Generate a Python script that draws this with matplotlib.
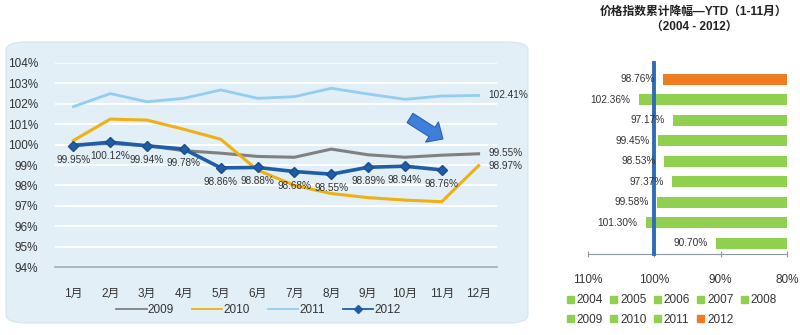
import matplotlib
matplotlib.use('Agg')
import matplotlib.pyplot as plt
import matplotlib.patches as mpatches
from matplotlib.lines import Line2D

plt.rcParams['font.family'] = ['Liberation Sans', 'Noto Sans CJK SC', 'DejaVu Sans']

months = ['1月', '2月', '3月', '4月', '5月', '6月', '7月', '8月', '9月', '10月', '11月', '12月']
s2009 = [100.0, 100.05, 99.95, 99.7, 99.58, 99.42, 99.38, 99.78, 99.5, 99.38, 99.48, 99.55]
s2010 = [100.2, 101.25, 101.2, 100.75, 100.26, 98.75, 98.0, 97.6, 97.4, 97.28, 97.2, 98.97]
s2011 = [101.86, 102.5, 102.1, 102.27, 102.68, 102.27, 102.35, 102.76, 102.48, 102.22, 102.38, 102.41]
s2012 = [99.95, 100.12, 99.94, 99.78, 98.86, 98.88, 98.68, 98.55, 98.89, 98.94, 98.76]

ytd_years = ['2004', '2005', '2006', '2007', '2008', '2009', '2010', '2011', '2012']
ytd_vals = [90.70, 101.30, 99.58, 97.37, 98.53, 99.45, 97.17, 102.36, 98.76]

c2009 = '#808080'
c2010 = '#efb012'
c2011 = '#93cdef'
c2012 = '#1f5ea6'
green = '#8fd04f'
orange = '#f07c22'

fig = plt.figure(figsize=(8, 3.35), dpi=100)

# rounded light blue panel behind the line chart
panel = mpatches.FancyBboxPatch((6 / 800, (335 - 323) / 335), 522 / 800, (323 - 42) / 335,
                                boxstyle='round,pad=0,rounding_size=0.025',
                                transform=fig.transFigure, facecolor='#e2eff6',
                                edgecolor='#d5e5ee', linewidth=0.8, zorder=-10)
fig.patches.append(panel)

ax = fig.add_axes([55 / 800, (335 - 267) / 335, 442 / 800, 204 / 335])
ax.set_facecolor('none')
x = list(range(len(months)))
ax.plot(x, s2009, color=c2009, lw=2.2, zorder=3)
ax.plot(x, s2010, color=c2010, lw=2.2, zorder=3)
ax.plot(x, s2011, color=c2011, lw=2.0, zorder=3)
x12 = x[:len(s2012)]
ax.plot(x12, s2012, color=c2012, lw=2.6, marker='D', markersize=5.5,
        markeredgecolor='#1a4f8e', zorder=4)

for xi, v in zip(x12, s2012):
    ax.annotate('%.2f%%' % v, (xi, v), xytext=(0, -14), textcoords='offset pixels',
                ha='center', va='center', fontsize=7.2, color='#333333', zorder=5)

ax.annotate('%.2f%%' % s2011[-1], (x[-1], s2011[-1]), xytext=(10, 0), textcoords='offset pixels',
            ha='left', va='center', fontsize=7.2, color='#333333')
ax.annotate('%.2f%%' % s2009[-1], (x[-1], s2009[-1]), xytext=(10, 1), textcoords='offset pixels',
            ha='left', va='center', fontsize=7.2, color='#333333')
ax.annotate('%.2f%%' % s2010[-1], (x[-1], s2010[-1]), xytext=(10, 0), textcoords='offset pixels',
            ha='left', va='center', fontsize=7.2, color='#333333')

ax.set_xlim(-0.5, 11.5)
ax.set_ylim(94, 104)
ax.set_yticks(range(94, 105))
ax.set_yticklabels(['%d%%' % t for t in range(94, 105)])
ax.set_xticks(x)
ax.set_xticklabels(months)
ax.tick_params(axis='y', length=0, pad=12, labelsize=8.5, labelcolor='#333333')
ax.tick_params(axis='x', length=0, pad=15, labelsize=8.5, labelcolor='#333333')
ax.grid(axis='y', color='white', lw=1.4, zorder=1)
ax.set_axisbelow(True)
for s in ['top', 'right', 'left']:
    ax.spines[s].set_visible(False)
ax.spines['bottom'].set_color('#a8b2ba')
ax.spines['bottom'].set_linewidth(1.3)

leg_handles = [Line2D([], [], color=c2009, lw=1.3),
               Line2D([], [], color=c2010, lw=1.3),
               Line2D([], [], color=c2011, lw=1.3),
               Line2D([], [], color=c2012, lw=1.3, marker='D', markersize=4)]
ax.legend(leg_handles, ['2009', '2010', '2011', '2012'], loc='center',
          bbox_to_anchor=(0.46, -0.21), ncol=4, frameon=False,
          fontsize=8.5, handlelength=2.6, handletextpad=0.1, columnspacing=1.5,
          labelcolor='#333333')

# blue arrow decoration
arrow = mpatches.FancyArrow(4.10, 2.17, 0.22, -0.14, width=0.11, head_width=0.24,
                            head_length=0.13, length_includes_head=False,
                            transform=fig.dpi_scale_trans, facecolor='#3f7fdc',
                            edgecolor='#2b5fb5', linewidth=0.8, zorder=6)
fig.patches.append(arrow)

# right chart: YTD bars
ax2 = fig.add_axes([588 / 800, (335 - 253.5) / 335, 199 / 800, 184.5 / 335])
yy = list(range(len(ytd_years)))
colors = [green] * (len(ytd_years) - 1) + [orange]
ax2.barh(yy, [v - 80 for v in ytd_vals], left=80, height=0.55, color=colors, zorder=2)
for yi, v in zip(yy, ytd_vals):
    ax2.annotate('%.2f%%' % v, (v, yi), xytext=(-8, 0), textcoords='offset pixels',
                 ha='right', va='center', fontsize=7.3, color='#333333', zorder=4)
ax2.axvline(100, ymin=0, ymax=1.035, color='#2e6db4', lw=2.8, zorder=3, clip_on=False)
ax2.set_xlim(110, 80)
ax2.set_ylim(-0.5, 8.5)
ax2.set_xticks([110, 100, 90, 80])
ax2.set_xticklabels(['110%', '100%', '90%', '80%'])
ax2.set_yticks([])
ax2.tick_params(axis='x', direction='inout', length=5, color='#8c96a0', pad=12,
                labelsize=8.5, labelcolor='#333333')
for s in ['top', 'right', 'left']:
    ax2.spines[s].set_visible(False)
ax2.spines['bottom'].set_color('#8c96a0')

fig.text(694 / 800, 1 - 12 / 335, '价格指数累计降幅—YTD（1-11月）', ha='center', va='center',
         fontsize=8.5, fontweight='bold', color='#222222')
fig.text(694 / 800, 1 - 27 / 335, '（2004 - 2012）', ha='center', va='center',
         fontsize=8.5, fontweight='bold', color='#222222')

handles = [mpatches.Patch(color=c) for c in colors]
order = [0, 5, 1, 6, 2, 7, 3, 8, 4]
fig.legend([handles[i] for i in order], [ytd_years[i] for i in order],
           loc='center', bbox_to_anchor=(672 / 800, 1 - 310 / 335), ncol=5, frameon=False,
           fontsize=8.5, handlelength=0.6, handleheight=0.6, handletextpad=0.25,
           columnspacing=0.6, labelspacing=0.6, labelcolor='#333333')

fig.savefig('out.png', dpi=100)
